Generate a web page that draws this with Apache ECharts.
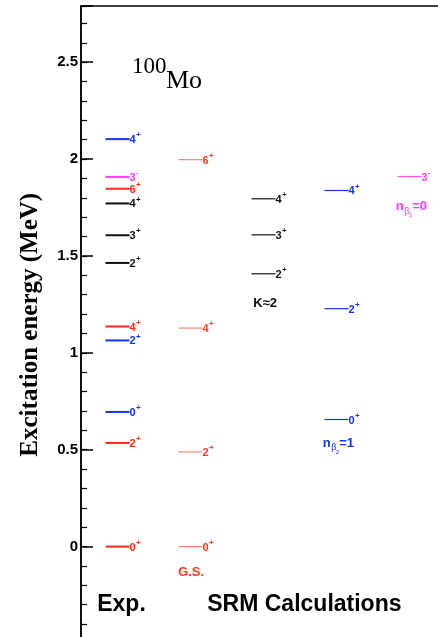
<!DOCTYPE html>
<html><head><meta charset="utf-8">
<script src="https://cdn.jsdelivr.net/npm/echarts@6/dist/echarts.min.js"></script>
<style>html,body{margin:0;padding:0;background:#fff}#c{width:438px;height:637px}</style>
</head><body><div id="c"></div><script>
// ---- data ----
const columns = ['Exp.', 'G.S.', 'K≈2', 'nβ2=1', 'nβ3=0'];
const yTickValues = [0, 0.5, 1, 1.5, 2, 2.5];

const expEnergy = [0, 0.535, 0.695, 1.064, 1.136, 1.464, 1.607, 1.771, 1.847, 1.908, 2.103];
const expSpin   = ['0', '2', '0', '2', '4', '2', '3', '4', '6', '3', '4'];
const expParity = ['+', '+', '+', '+', '+', '+', '+', '+', '+', '-', '+'];
const expBand   = ['gs', 'gs', 'beta2', 'beta2', 'gs', 'gamma', 'gamma', 'gamma', 'gs', 'beta3', 'beta2'];

const srmGsEnergy = [0, 0.489, 1.128, 1.997];
const srmGsSpin   = ['0', '2', '4', '6'];
const srmGammaEnergy = [1.408, 1.609, 1.795];
const srmGammaSpin   = ['2', '3', '4'];
const srmBeta2Energy = [0.656, 1.228, 1.838];
const srmBeta2Spin   = ['0', '2', '4'];
const srmBeta3Energy = [1.910];
const srmBeta3Spin   = ['3'];

// ---- styles ----
const expColor = { gs: '#ff2a12', beta2: '#1436f0', gamma: '#111111', beta3: '#ff3cff' };
const srmLine  = { gs: '#ff8472', beta2: '#1436f0', gamma: '#111111', beta3: '#ff50ff' };
const srmText  = { gs: '#ff3a20', beta2: '#1436f0', gamma: '#111111', beta3: '#ff3cff' };
const SANS = '"Liberation Sans", Arial, sans-serif';
const SERIF = '"Liberation Serif", "Times New Roman", serif';

function levelSeries(col, energies, spins, parities, lineColors, textColors, lw) {
  return {
    type: 'custom', coordinateSystem: 'cartesian2d', clip: false,
    data: energies.map((e, i) => [col, e, i]),
    renderItem: function (params, api) {
      const i = api.value(2);
      const p = api.coord([api.value(0), api.value(1)]);
      const tc = textColors[i];
      return { type: 'group', children: [
        { type: 'line', shape: { x1: p[0] - 12, y1: p[1], x2: p[0] + 12, y2: p[1] },
          style: { stroke: lineColors[i], lineWidth: lw } },
        { type: 'text', x: p[0] + 12, y: p[1] + 1,
          style: { text: spins[i], fill: tc, font: 'bold 11px ' + SANS, align: 'left', verticalAlign: 'middle' } },
        { type: 'text', x: p[0] + 18.5, y: p[1] - 4,
          style: { text: parities[i], fill: tc, font: 'bold 8px ' + SANS, align: 'left', verticalAlign: 'middle' } }
      ]};
    }
  };
}

// annotation labels (positions in data units: column, energy)
const annoLayout = [
  { x: 0.055, y: -0.302, kind: 'plain', text: 'Exp.', size: 23, color: '#000', align: 'center' },
  { x: 2.56, y: -0.302, kind: 'plain', text: 'SRM Calculations', size: 23, color: '#000', align: 'center' },
  { x: 0.83, y: -0.131, kind: 'plain', text: 'G.S.', size: 13, color: '#ff3a20', align: 'left' },
  { x: 1.86, y: 1.255, kind: 'plain', text: 'K≈2', size: 13, color: '#111', align: 'left' },
  { x: 2.81, y: 0.535, kind: 'nbeta', sub: '2', val: '=1', color: '#1436f0' },
  { x: 3.81, y: 1.757, kind: 'nbeta', sub: '3', val: '=0', color: '#ff3cff' }
];

const annoSeries = {
  type: 'custom', coordinateSystem: 'cartesian2d', clip: false,
  data: annoLayout.map((a, i) => [a.x, a.y, i]),
  renderItem: function (params, api) {
    const a = annoLayout[api.value(2)];
    const p = api.coord([api.value(0), api.value(1)]);
    if (a.kind === 'plain') {
      return { type: 'text', x: p[0], y: p[1],
        style: { text: a.text, fill: a.color, font: 'bold ' + a.size + 'px ' + SANS, align: a.align, verticalAlign: 'middle' } };
    }
    return { type: 'group', children: [
      { type: 'text', x: p[0], y: p[1], style: { text: 'n', fill: a.color, font: 'bold 13px ' + SANS, verticalAlign: 'middle' } },
      { type: 'text', x: p[0] + 8.5, y: p[1] + 5, style: { text: 'β', fill: a.color, font: '9px ' + SANS, verticalAlign: 'middle' } },
      { type: 'text', x: p[0] + 13, y: p[1] + 9, style: { text: a.sub, fill: a.color, font: '6px ' + SANS, verticalAlign: 'middle' } },
      { type: 'text', x: p[0] + 16.5, y: p[1], style: { text: a.val, fill: a.color, font: 'bold 13px ' + SANS, verticalAlign: 'middle' } }
    ]};
  }
};

const chart = echarts.init(document.getElementById('c'), null, { renderer: 'canvas' });
const isMajor = v => yTickValues.some(t => Math.abs(t - v) < 1e-6);

chart.setOption({
  animation: false,
  backgroundColor: '#fff',
  grid: { left: 81, top: 6, right: -8, bottom: -6.5, containLabel: false, outerBoundsMode: 'none' },
  xAxis: {
    type: 'value', min: -0.5, max: 4.5, position: 'top',
    axisLine: { show: true, onZero: false, lineStyle: { color: '#000', width: 1.5 } },
    axisTick: { show: false }, axisLabel: { show: false }, splitLine: { show: false }
  },
  yAxis: [
    {
      type: 'value', min: -0.5, max: 2.79, interval: 0.1, position: 'left',
      axisLine: { show: true, onZero: false, lineStyle: { color: '#000', width: 1.5 } },
      axisTick: { show: true, inside: true, length: 6, lineStyle: { color: '#000', width: 1.2 } },
      axisLabel: { show: false }, splitLine: { show: false }
    },
    {
      type: 'value', min: -0.5, max: 2.79, interval: 0.5, position: 'left', offset: 0,
      name: 'Excitation energy (MeV)', nameLocation: 'middle', nameGap: 38,
      nameTextStyle: { fontFamily: SERIF, fontWeight: 'bold', fontSize: 25, color: '#000' },
      axisLine: { show: true, onZero: false, lineStyle: { color: '#000', width: 1.5 } },
      axisTick: { show: true, inside: true, length: 12, lineStyle: { color: '#000', width: 1.5 } },
      axisLabel: {
        show: true, margin: 3, color: '#000', fontFamily: SANS, fontWeight: 'bold', fontSize: 15,
        formatter: v => (isMajor(v) && v >= 0) ? String(Math.round(v * 10) / 10) : ''
      },
      splitLine: { show: false }
    }
  ],
  graphic: [
    { type: 'text', left: 132, top: 55, style: { text: '100', font: '23px ' + SERIF, fill: '#000' } },
    { type: 'text', left: 166, top: 68, style: { text: 'Mo', font: '26px ' + SERIF, fill: '#000' } }
  ],
  series: [
    levelSeries(0, expEnergy, expSpin, expParity,
      expBand.map(b => expColor[b]), expBand.map(b => expColor[b]), 2),
    levelSeries(1, srmGsEnergy, srmGsSpin, srmGsSpin.map(() => '+'),
      srmGsSpin.map(() => srmLine.gs), srmGsSpin.map(() => srmText.gs), 1.2),
    levelSeries(2, srmGammaEnergy, srmGammaSpin, srmGammaSpin.map(() => '+'),
      srmGammaSpin.map(() => srmLine.gamma), srmGammaSpin.map(() => srmText.gamma), 1.2),
    levelSeries(3, srmBeta2Energy, srmBeta2Spin, srmBeta2Spin.map(() => '+'),
      srmBeta2Spin.map(() => srmLine.beta2), srmBeta2Spin.map(() => srmText.beta2), 1.2),
    levelSeries(4, srmBeta3Energy, srmBeta3Spin, srmBeta3Spin.map(() => '-'),
      srmBeta3Spin.map(() => srmLine.beta3), srmBeta3Spin.map(() => srmText.beta3), 1.2),
    annoSeries
  ]
});
</script></body></html>
